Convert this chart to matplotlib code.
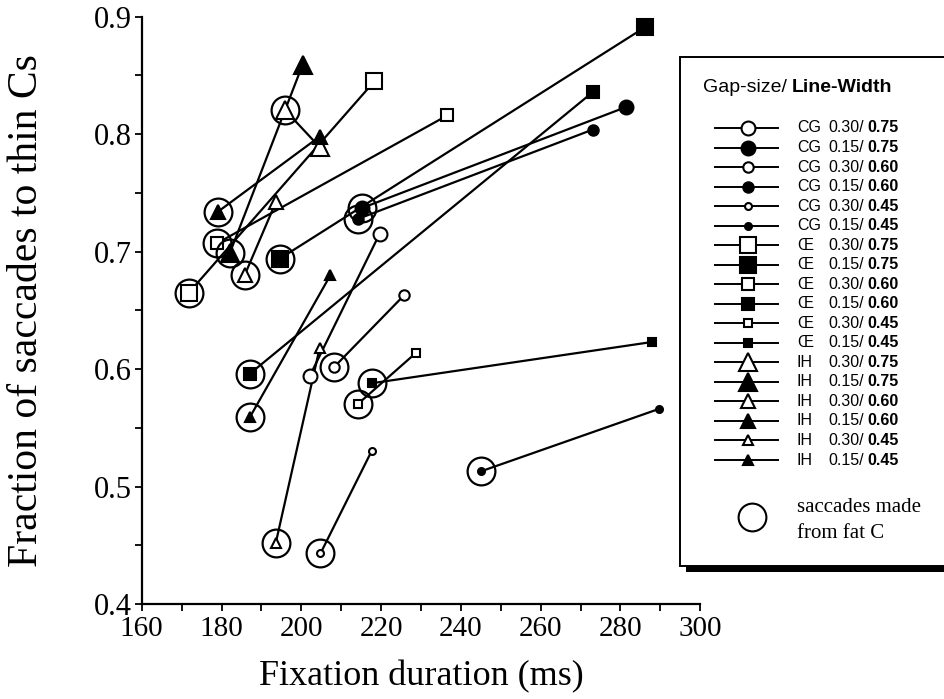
import matplotlib
matplotlib.use("Agg")
import matplotlib.pyplot as plt
from matplotlib.patches import Rectangle

# ---------------- data ----------------
groups = ["CG", "CG", "CG", "CG", "CG", "CG",
          "Œ", "Œ", "Œ", "Œ", "Œ", "Œ",
          "IH", "IH", "IH", "IH", "IH", "IH"]
gap_sizes = ["0.30", "0.15"] * 9
line_widths = ["0.75", "0.75", "0.60", "0.60", "0.45", "0.45"] * 3

# point of saccades made from fat C (circled) and the other point
fat_x = [202.1, 215.1, 208.3, 214.3, 204.8, 245.1,
         171.8, 194.6, 178.8, 187.1, 214.1, 217.8,
         195.8, 182.1, 185.8, 179.1, 193.6, 187.1]
fat_y = [0.594, 0.737, 0.602, 0.728, 0.443, 0.513,
         0.665, 0.694, 0.707, 0.596, 0.570, 0.588,
         0.821, 0.699, 0.680, 0.734, 0.452, 0.559]
thin_x = [219.6, 281.3, 225.8, 273.1, 217.6, 289.6,
          218.3, 286.1, 236.6, 273.1, 228.8, 287.8,
          204.6, 200.3, 193.6, 204.6, 204.6, 207.3]
thin_y = [0.715, 0.823, 0.663, 0.804, 0.530, 0.566,
          0.845, 0.891, 0.816, 0.836, 0.614, 0.623,
          0.789, 0.859, 0.742, 0.798, 0.618, 0.680]
circled = [False] + [True] * 17

x_ticks = [160, 180, 200, 220, 240, 260, 280, 300]
y_ticks = [0.4, 0.5, 0.6, 0.7, 0.8, 0.9]

# ---------------- styles ----------------
shape = {"CG": "o", "Œ": "s", "IH": "^"}
size_tbl = {
    "o": {"0.75": 10, "0.60": 7.5, "0.45": 5},
    "s": {"0.75": 11, "0.60": 8.5, "0.45": 6},
    "^": {"0.75": 13, "0.60": 10.5, "0.45": 7.5},
}

def style(i):
    m = shape[groups[i]]
    ms = size_tbl[m][line_widths[i]]
    fc = "white" if gap_sizes[i] == "0.30" else "black"
    return m, ms, fc

fig = plt.figure(figsize=(9.45, 6.99), dpi=100)
ax = fig.add_axes([0.150, 0.136, 0.591, 0.840])

serif = "Liberation Serif"
sans = "Liberation Sans"

for i in range(len(groups)):
    ax.plot([fat_x[i], thin_x[i]], [fat_y[i], thin_y[i]], color="black",
            lw=1.6, zorder=2, solid_capstyle="butt")
for i in range(len(groups)):
    m, ms, fc = style(i)
    ax.plot([fat_x[i], thin_x[i]], [fat_y[i], thin_y[i]], linestyle="none",
            marker=m, ms=ms, mfc=fc, mec="black", mew=1.5, zorder=3)
for i in range(len(groups)):
    if circled[i]:
        ax.plot([fat_x[i]], [fat_y[i]], linestyle="none", marker="o", ms=20,
                mfc="none", mec="black", mew=1.6, zorder=4)

ax.set_xlim(160, 300)
ax.set_ylim(0.4, 0.9)
ax.set_xticks(x_ticks)
ax.set_yticks(y_ticks)
ax.set_xticks([170, 190, 210, 230, 250, 270, 290], minor=True)
ax.set_yticks([0.45, 0.55, 0.65, 0.75, 0.85], minor=True)
ax.set_xticklabels([str(v) for v in x_ticks], fontfamily=serif, fontsize=21)
ax.set_yticklabels([f"{v:.1f}" for v in y_ticks], fontfamily=serif, fontsize=22)
ax.tick_params(which="both", direction="out", length=5, width=1.3)
ax.tick_params(axis="x", pad=4)
ax.tick_params(axis="y", pad=2)
for s in ["top", "right"]:
    ax.spines[s].set_visible(False)
for s in ["left", "bottom"]:
    ax.spines[s].set_linewidth(1.6)
ax.set_xlabel("Fixation duration (ms)", fontfamily=serif, fontsize=26)
ax.xaxis.set_label_coords(0.5, -56 / 587, transform=ax.transAxes)
ax.set_ylabel("Fraction of saccades to thin Cs", fontfamily=serif, fontsize=30)
ax.yaxis.set_label_coords(-96 / 558, 0.5, transform=ax.transAxes)

# ---------------- legend (pixel coordinates) ----------------
lg = fig.add_axes([0, 0, 1, 1], zorder=5)
lg.set_xlim(0, 945)
lg.set_ylim(699, 0)
lg.axis("off")
lg.add_patch(Rectangle((686, 566), 270, 6, facecolor="black", edgecolor="none"))
lg.add_patch(Rectangle((680, 57), 280, 509, facecolor="white", edgecolor="black", lw=1.4))

lg.text(703, 88, "Gap-size/", fontfamily=sans, fontsize=14, va="center", ha="left")
lg.text(792, 88, "Line-Width", fontfamily=sans, fontsize=14, fontweight="bold",
        va="center", ha="left")

row0, dy = 128, 19.53
for i in range(len(groups)):
    y = row0 + i * dy
    m, ms, fc = style(i)
    lg.plot([715, 778], [y, y], color="black", lw=1.4, zorder=6)
    lg.plot([748], [y], marker=m, ms=ms, mfc=fc, mec="black", mew=1.5, zorder=7)
    lg.text(797, y, groups[i], fontfamily=sans, fontsize=11.5, va="center", ha="left")
    lg.text(828, y, gap_sizes[i] + "/", fontfamily=sans, fontsize=11.5, va="center", ha="left")
    lg.text(867, y, line_widths[i], fontfamily=sans, fontsize=11.5, fontweight="bold",
            va="center", ha="left")

lg.plot([752], [517], marker="o", ms=20, mfc="none", mec="black", mew=1.5)
lg.text(797, 508, "saccades made", fontfamily=serif, fontsize=15, va="center", ha="left")
lg.text(797, 534, "from fat C", fontfamily=serif, fontsize=15, va="center", ha="left")

fig.savefig("out.png", dpi=100)
